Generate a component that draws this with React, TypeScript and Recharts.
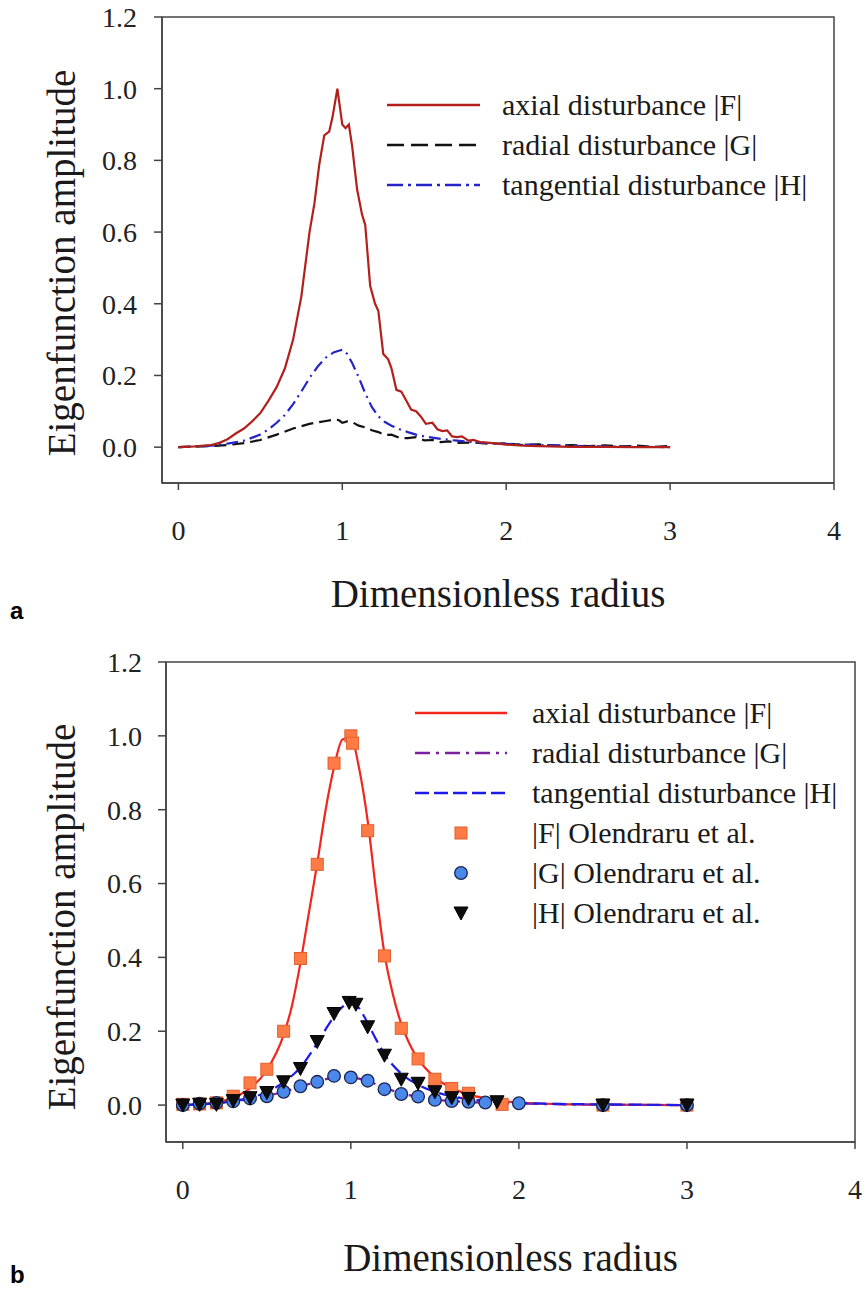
import React from "react";
import { ComposedChart, Line, Scatter, XAxis, YAxis, ReferenceArea, Legend, Label } from "recharts";

// radius / amplitude pairs, panel a (present computation)
const axialA: [number, number][] = [
  [0, 0], [0.1, 0.002], [0.2, 0.006], [0.25, 0.012], [0.3, 0.022], [0.35, 0.038], [0.4, 0.052],
  [0.45, 0.072], [0.5, 0.095], [0.55, 0.13], [0.6, 0.168], [0.65, 0.22], [0.7, 0.3], [0.75, 0.42],
  [0.8, 0.6], [0.83, 0.68], [0.86, 0.79], [0.89, 0.87], [0.92, 0.88], [0.94, 0.92], [0.97, 1.0],
  [1.0, 0.9], [1.02, 0.89], [1.04, 0.9], [1.06, 0.84], [1.09, 0.72], [1.12, 0.65], [1.14, 0.62],
  [1.17, 0.45], [1.2, 0.4], [1.22, 0.38], [1.25, 0.26], [1.28, 0.245], [1.3, 0.22], [1.33, 0.16],
  [1.36, 0.155], [1.39, 0.13], [1.42, 0.105], [1.45, 0.1], [1.48, 0.085], [1.51, 0.065],
  [1.55, 0.068], [1.58, 0.05], [1.61, 0.045], [1.64, 0.047], [1.67, 0.03], [1.7, 0.028],
  [1.73, 0.03], [1.77, 0.018], [1.8, 0.02], [1.84, 0.014], [1.9, 0.012], [1.95, 0.01],
  [2.0, 0.007], [2.1, 0.004], [2.2, 0.003], [2.4, 0.001], [2.6, 0.001], [2.8, 0], [3.0, 0],
];
const radialA: [number, number][] = [
  [0, 0], [0.2, 0.003], [0.3, 0.006], [0.4, 0.011], [0.5, 0.02], [0.6, 0.035], [0.7, 0.052],
  [0.8, 0.065], [0.86, 0.07], [0.9, 0.073], [0.95, 0.077], [0.98, 0.075], [1.0, 0.068],
  [1.03, 0.072], [1.06, 0.07], [1.1, 0.06], [1.14, 0.055], [1.18, 0.047], [1.22, 0.042],
  [1.26, 0.034], [1.3, 0.035], [1.35, 0.026], [1.4, 0.025], [1.45, 0.028], [1.5, 0.019],
  [1.55, 0.02], [1.6, 0.014], [1.65, 0.016], [1.7, 0.012], [1.8, 0.013], [1.9, 0.009],
  [2.0, 0.011], [2.1, 0.006], [2.2, 0.008], [2.3, 0.004], [2.4, 0.006], [2.5, 0.003],
  [2.6, 0.005], [2.7, 0.002], [2.8, 0.004], [2.9, 0.001], [3.0, 0.003],
];
const tangentialA: [number, number][] = [
  [0, 0], [0.2, 0.004], [0.3, 0.01], [0.4, 0.018], [0.5, 0.035], [0.55, 0.05], [0.6, 0.068],
  [0.65, 0.09], [0.7, 0.12], [0.75, 0.155], [0.8, 0.193], [0.85, 0.225], [0.9, 0.25],
  [0.95, 0.265], [1.0, 0.272], [1.03, 0.26], [1.06, 0.235], [1.1, 0.195], [1.14, 0.15],
  [1.18, 0.112], [1.22, 0.086], [1.26, 0.07], [1.3, 0.06], [1.35, 0.05], [1.4, 0.042],
  [1.45, 0.035], [1.5, 0.03], [1.6, 0.023], [1.7, 0.018], [1.8, 0.014], [1.9, 0.011],
  [2.0, 0.009], [2.2, 0.006], [2.4, 0.004], [2.6, 0.002], [2.8, 0.001], [3.0, 0],
];

// panel b: smooth solution plus reference points
const axialB: [number, number][] = [
  [0, 0], [0.1, 0.002], [0.2, 0.008], [0.3, 0.02], [0.4, 0.045], [0.5, 0.095], [0.6, 0.19],
  [0.65, 0.27], [0.7, 0.385], [0.75, 0.52], [0.8, 0.655], [0.85, 0.8], [0.9, 0.915],
  [0.95, 0.99], [1.0, 0.995], [1.05, 0.91], [1.1, 0.77], [1.15, 0.58], [1.2, 0.41], [1.25, 0.3],
  [1.3, 0.22], [1.35, 0.165], [1.4, 0.125], [1.5, 0.075], [1.6, 0.046], [1.7, 0.029],
  [1.8, 0.018], [1.9, 0.011], [2.0, 0.007], [2.2, 0.003], [2.5, 0.001], [3.0, 0],
];
const radialB: [number, number][] = [
  [0, 0], [0.1, 0.002], [0.2, 0.005], [0.3, 0.01], [0.4, 0.017], [0.5, 0.025], [0.6, 0.036],
  [0.7, 0.05], [0.8, 0.064], [0.9, 0.075], [0.95, 0.078], [1.0, 0.076], [1.1, 0.065],
  [1.2, 0.047], [1.3, 0.032], [1.4, 0.022], [1.5, 0.015], [1.6, 0.011], [1.7, 0.008],
  [1.8, 0.006], [2.0, 0.004], [2.5, 0.001], [3.0, 0],
];
const tangentialB: [number, number][] = [
  [0, 0], [0.1, 0.002], [0.2, 0.005], [0.3, 0.011], [0.4, 0.02], [0.5, 0.035], [0.6, 0.062],
  [0.7, 0.102], [0.8, 0.168], [0.85, 0.205], [0.9, 0.24], [0.95, 0.266], [1.0, 0.277],
  [1.05, 0.262], [1.1, 0.222], [1.15, 0.178], [1.2, 0.138], [1.3, 0.085], [1.4, 0.055],
  [1.5, 0.036], [1.6, 0.024], [1.7, 0.016], [1.8, 0.011], [1.9, 0.008], [2.0, 0.006],
  [2.25, 0.003], [2.5, 0.002], [3.0, 0],
];
const olendraruF: [number, number][] = [
  [0, 0.002], [0.1, 0.003], [0.2, 0.006], [0.3, 0.024], [0.4, 0.06], [0.5, 0.097], [0.6, 0.2],
  [0.7, 0.397], [0.8, 0.652], [0.9, 0.926], [1.0, 1.0], [1.01, 0.98], [1.1, 0.743], [1.2, 0.404],
  [1.3, 0.208], [1.4, 0.125], [1.5, 0.07], [1.6, 0.045], [1.7, 0.032], [1.9, 0.002],
  [2.5, 0], [3.0, 0],
];
const olendraruG: [number, number][] = [
  [0, 0], [0.1, 0.004], [0.2, 0.006], [0.3, 0.01], [0.4, 0.018], [0.5, 0.024], [0.6, 0.036],
  [0.7, 0.051], [0.8, 0.063], [0.9, 0.079], [1.0, 0.075], [1.1, 0.066], [1.2, 0.043],
  [1.3, 0.03], [1.4, 0.023], [1.5, 0.014], [1.6, 0.011], [1.7, 0.009], [1.8, 0.007],
  [2.0, 0.005], [2.5, 0], [3.0, 0],
];
const olendraruH: [number, number][] = [
  [0, 0], [0.1, 0.002], [0.2, 0.002], [0.3, 0.012], [0.4, 0.02], [0.5, 0.034], [0.6, 0.063],
  [0.7, 0.099], [0.8, 0.172], [0.9, 0.248], [0.99, 0.278], [1.03, 0.273], [1.1, 0.212],
  [1.2, 0.135], [1.3, 0.07], [1.4, 0.059], [1.5, 0.036], [1.6, 0.02], [1.7, 0.018],
  [1.87, 0.009], [2.5, 0], [3.0, 0],
];

const xTicks = [0, 1, 2, 3, 4];
const yTicks = [0, 0.2, 0.4, 0.6, 0.8, 1.0, 1.2];

const serif =
  "'Liberation Serif', Tinos, 'Noto Serif', 'Nimbus Roman', FreeSerif, 'DejaVu Serif', 'Times New Roman', Times, Georgia, serif";
const axisColor = "#444";

const pts = (pairs: [number, number][]) => pairs.map(([x, y]) => ({ x, y }));

const Square = (p: any) => (
  <rect x={p.cx - 6} y={p.cy - 6} width={12} height={12} fill="#ff7b45" stroke="#e0602e" strokeWidth={1} />
);
const Circle = (p: any) => (
  <circle cx={p.cx} cy={p.cy} r={6.3} fill="#4a88ec" stroke="#1b2550" strokeWidth={1.3} />
);
const TriDown = (p: any) => (
  <polygon
    points={`${p.cx - 7},${p.cy - 6} ${p.cx + 7},${p.cy - 6} ${p.cx},${p.cy + 7}`}
    fill="#0d0d0d"
    stroke="#000"
    strokeWidth={1}
  />
);

type Entry = { label: string; stroke?: string; dash?: string; marker?: (p: any) => React.ReactElement };

const legendA: Entry[] = [
  { label: "axial disturbance |F|", stroke: "#b3201c" },
  { label: "radial disturbance |G|", stroke: "#111", dash: "17 7" },
  { label: "tangential disturbance |H|", stroke: "#2424c8", dash: "16 5 3 5" },
];
const legendB: Entry[] = [
  { label: "axial disturbance |F|", stroke: "#f2261c" },
  { label: "radial disturbance |G|", stroke: "#7a1fa0", dash: "15 6 3 6" },
  { label: "tangential disturbance |H|", stroke: "#1c1ce6", dash: "14 5" },
  { label: "|F| Olendraru et al.", marker: Square },
  { label: "|G| Olendraru et al.", marker: Circle },
  { label: "|H| Olendraru et al.", marker: TriDown },
];

const LegendRows = ({ entries, sample, gap }: { entries: Entry[]; sample: number; gap: number }) => (
  <div style={{ fontFamily: serif, fontSize: 30, color: "#1a1a1a" }}>
    {entries.map((e) => (
      <div key={e.label} style={{ display: "flex", alignItems: "center", height: 40 }}>
        <svg width={sample} height={20} style={{ marginRight: gap, flex: "none" }}>
          {e.marker ? (
            e.marker({ cx: sample / 2, cy: 10 })
          ) : (
            <line x1={0} y1={10} x2={sample} y2={10} stroke={e.stroke} strokeWidth={2.4} strokeDasharray={e.dash} />
          )}
        </svg>
        <span style={{ whiteSpace: "nowrap", lineHeight: "40px" }}>{e.label}</span>
      </div>
    ))}
  </div>
);

const xTitle = (dy: number) => (props: any) => {
  const vb = props.viewBox;
  return (
    <text x={vb.x + vb.width / 2} y={vb.y + dy} textAnchor="middle" dominantBaseline="central"
      style={{ fontFamily: serif }} fontSize={39} fill="#1a1a1a">
      Dimensionless radius
    </text>
  );
};

const yTitle = (cx: number, dy: number) => (props: any) => {
  const vb = props.viewBox;
  const cy = vb.y + vb.height / 2 + dy;
  return (
    <text x={cx} y={cy} transform={`rotate(-90, ${cx}, ${cy})`} textAnchor="middle" dominantBaseline="central"
      style={{ fontFamily: serif }} fontSize={39} fill="#1a1a1a">
      Eigenfunction amplitude
    </text>
  );
};

const tickStyle = { fontSize: 28, fill: "#222", style: { fontFamily: serif } };

const App = () => {
  return (
    <div style={{ position: "absolute", left: 0, top: 0, width: 867, height: 1289, background: "#fff", fontFamily: serif }}>
      {/* panel a */}
      <div style={{ position: "absolute", left: 0, top: 0 }}>
        <ComposedChart width={867} height={640} margin={{ top: 17, right: 33, left: 0, bottom: 0 }}>
          <XAxis type="number" dataKey="x" domain={[-0.1, 4]} ticks={xTicks} height={157}
            stroke={axisColor} strokeWidth={1.5} tickSize={7} tickMargin={30} tick={tickStyle}
            label={<Label content={xTitle(110)} />} />
          <YAxis type="number" dataKey="y" domain={[-0.1, 1.2]} ticks={yTicks} width={162}
            stroke={axisColor} strokeWidth={1.5} tickSize={8} tickMargin={17} tick={tickStyle}
            tickFormatter={(v: number) => v.toFixed(1)}
            label={<Label content={yTitle(61, 13)} />} />
          <ReferenceArea x1={-0.1} x2={4} y1={-0.1} y2={1.2} fill="none" stroke={axisColor} strokeWidth={1.5} />
          <Line data={pts(radialA)} dataKey="y" type="linear" stroke="#111" strokeWidth={2.2}
            strokeDasharray="12 6" dot={false} activeDot={false} isAnimationActive={false} />
          <Line data={pts(tangentialA)} dataKey="y" type="linear" stroke="#2424c8" strokeWidth={2.2}
            strokeDasharray="12 5 2 5" dot={false} activeDot={false} isAnimationActive={false} />
          <Line data={pts(axialA)} dataKey="y" type="linear" stroke="#b3201c" strokeWidth={2.2}
            dot={false} activeDot={false} isAnimationActive={false} />
          <Legend layout="horizontal" verticalAlign="middle" align="center" width={470} height={130}
            wrapperStyle={{ left: 387, top: 85 }}
            content={() => <LegendRows entries={legendA} sample={93} gap={22} />} />
        </ComposedChart>
      </div>

      {/* panel b */}
      <div style={{ position: "absolute", left: 0, top: 640 }}>
        <ComposedChart width={867} height={649} margin={{ top: 22, right: 12, left: 0, bottom: 0 }}>
          <XAxis type="number" dataKey="x" domain={[-0.1, 4]} ticks={xTicks} height={147}
            stroke={axisColor} strokeWidth={1.5} tickSize={7} tickMargin={30} tick={tickStyle}
            label={<Label content={xTitle(115)} />} />
          <YAxis type="number" dataKey="y" domain={[-0.1, 1.2]} ticks={yTicks} width={166}
            stroke={axisColor} strokeWidth={1.5} tickSize={8} tickMargin={16} tick={tickStyle}
            tickFormatter={(v: number) => v.toFixed(1)}
            label={<Label content={yTitle(61, 15)} />} />
          <ReferenceArea x1={-0.1} x2={4} y1={-0.1} y2={1.2} fill="none" stroke={axisColor} strokeWidth={1.5} />
          <Line data={pts(axialB)} dataKey="y" type="monotone" stroke="#f2261c" strokeWidth={2.2}
            dot={false} activeDot={false} isAnimationActive={false} />
          <Line data={pts(radialB)} dataKey="y" type="monotone" stroke="#7a1fa0" strokeWidth={2.2}
            strokeDasharray="14 6 3 6" dot={false} activeDot={false} isAnimationActive={false} />
          <Line data={pts(tangentialB)} dataKey="y" type="monotone" stroke="#1c1ce6" strokeWidth={2.2}
            strokeDasharray="13 6" dot={false} activeDot={false} isAnimationActive={false} />
          <Scatter data={pts(olendraruF)} dataKey="y" shape={Square} isAnimationActive={false} />
          <Scatter data={pts(olendraruG)} dataKey="y" shape={Circle} isAnimationActive={false} />
          <Scatter data={pts(olendraruH)} dataKey="y" shape={TriDown} isAnimationActive={false} />
          <Legend layout="horizontal" verticalAlign="middle" align="center" width={460} height={245}
            wrapperStyle={{ left: 415, top: 53 }}
            content={() => <LegendRows entries={legendB} sample={92} gap={25} />} />
        </ComposedChart>
      </div>

      <div style={{ position: "absolute", left: 10, top: 599, font: "bold 24px 'Liberation Sans', Arial, sans-serif", lineHeight: "24px" }}>a</div>
      <div style={{ position: "absolute", left: 10, top: 1263, font: "bold 24px 'Liberation Sans', Arial, sans-serif", lineHeight: "24px" }}>b</div>
    </div>
  );
};

export default App;
